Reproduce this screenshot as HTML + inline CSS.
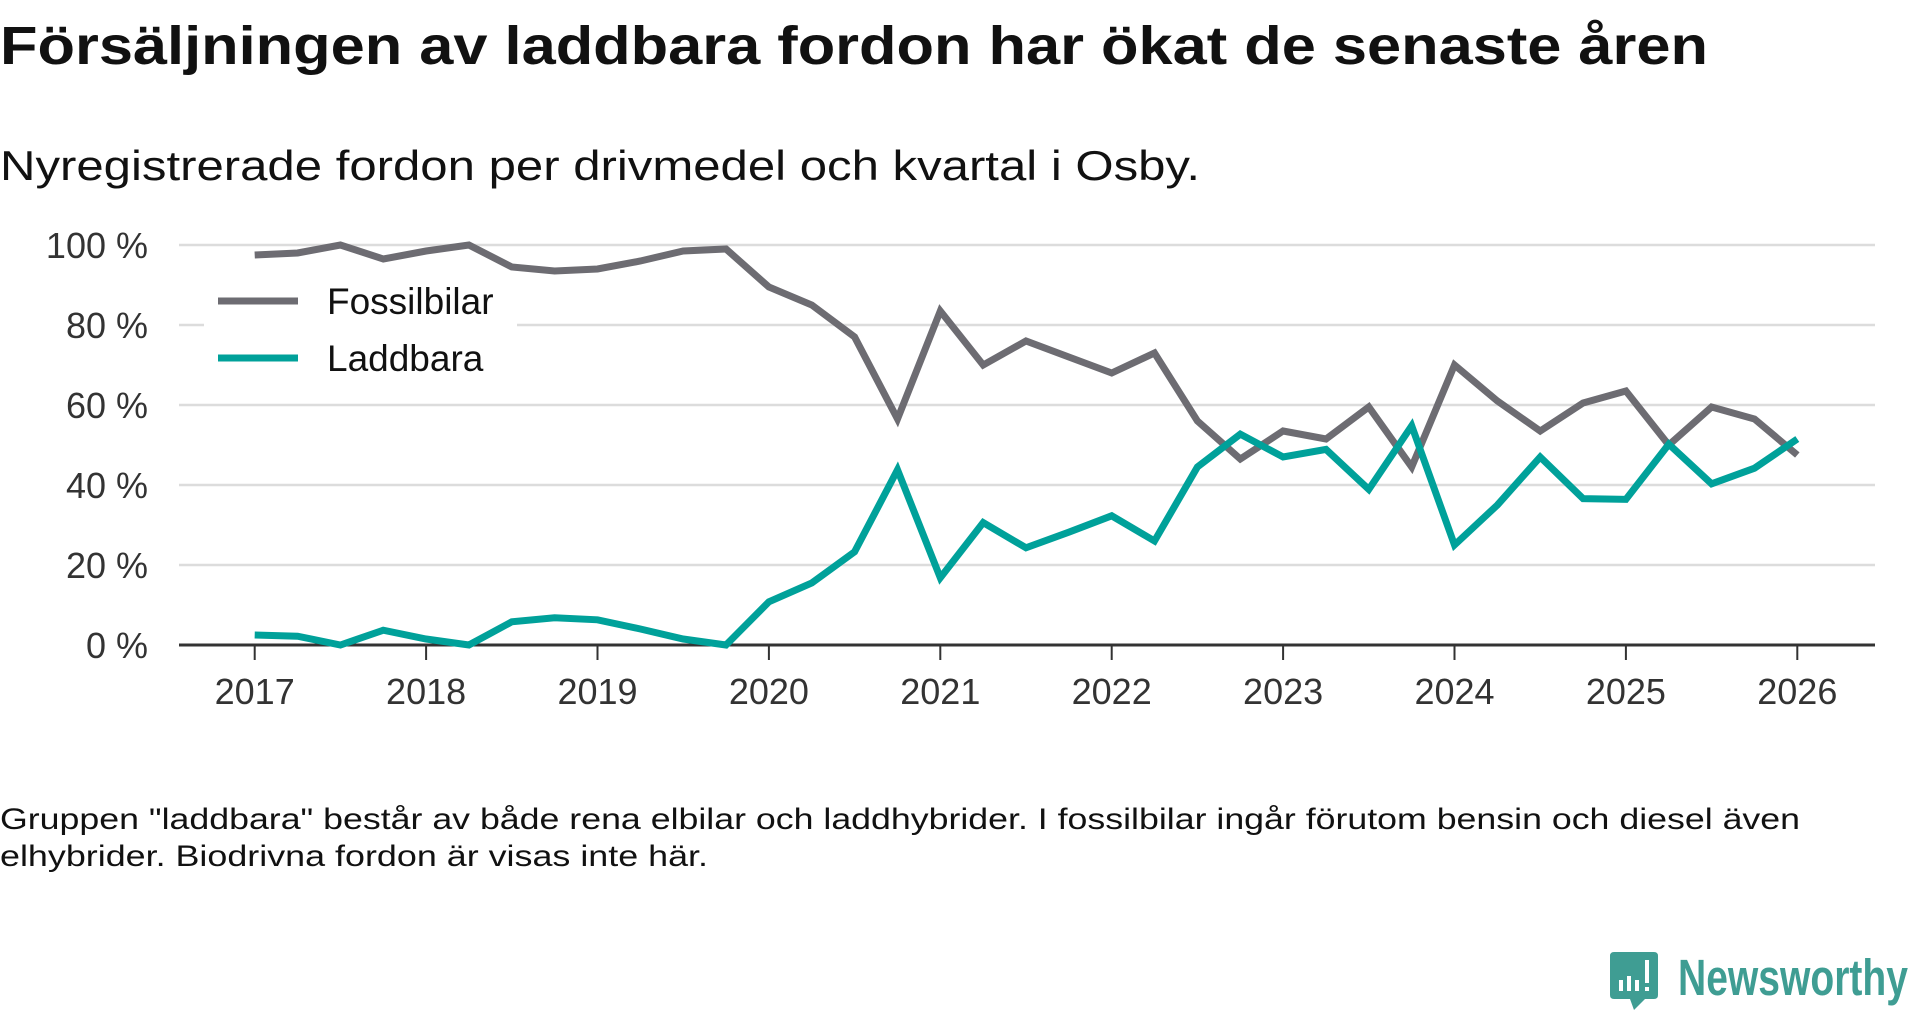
<!DOCTYPE html>
<html><head><meta charset="utf-8"><style>
html,body{margin:0;padding:0;background:#fff;}
svg{display:block;font-family:"Liberation Sans",sans-serif;}
</style></head><body>
<svg id="chart" width="1920" height="1010" viewBox="0 0 1920 1010">
<text x="0" y="64" font-size="54" font-weight="bold" fill="#111" textLength="1708" lengthAdjust="spacingAndGlyphs">Försäljningen av laddbara fordon har ökat de senaste åren</text>
<text x="0" y="180" font-size="42" fill="#111" textLength="1200" lengthAdjust="spacingAndGlyphs">Nyregistrerade fordon per drivmedel och kvartal i Osby.</text>
<g id="grid"></g>
<g id="yticks"></g>
<g id="xticks"></g>
<g id="legend">
<rect x="204" y="272" width="313" height="110" fill="#fff"/>
<line x1="218" y1="301" x2="298" y2="301" stroke="#6d6c72" stroke-width="7"/>
<text x="327" y="314" font-size="37" fill="#111">Fossilbilar</text>
<line x1="218" y1="358" x2="298" y2="358" stroke="#00a19a" stroke-width="7"/>
<text x="327" y="371" font-size="37" fill="#111">Laddbara</text>
</g>
<g id="series"></g>
<text x="0" y="829" font-size="30" fill="#111" textLength="1800" lengthAdjust="spacingAndGlyphs">Gruppen "laddbara" består av både rena elbilar och laddhybrider. I fossilbilar ingår förutom bensin och diesel även</text>
<text x="0" y="866" font-size="30" fill="#111" textLength="708" lengthAdjust="spacingAndGlyphs">elhybrider. Biodrivna fordon är visas inte här.</text>
<g>
<path d="M1614 952 H1654 Q1658 952 1658 956 V995 Q1658 999 1654 999 H1645 L1634 1010 L1630 999 H1614 Q1610 999 1610 995 V956 Q1610 952 1614 952 Z" fill="#3f9d93"/>
<rect x="1619" y="980" width="4" height="11" fill="#fff"/><rect x="1627" y="976" width="4" height="15" fill="#fff"/><rect x="1635" y="980" width="4" height="11" fill="#fff"/><rect x="1645" y="960" width="4" height="23" fill="#fff"/><rect x="1645" y="987" width="4" height="4" fill="#fff"/>
<text x="1678" y="995" font-size="51" font-weight="bold" fill="#3f9d93" textLength="230" lengthAdjust="spacingAndGlyphs">Newsworthy</text>
</g>
</svg>
<script>
const yTickValues = [0, 20, 40, 60, 80, 100];
const yTickLabels = ["0 %", "20 %", "40 %", "60 %", "80 %", "100 %"];
const xTickYears = [2017, 2018, 2019, 2020, 2021, 2022, 2023, 2024, 2025, 2026];
const fossil = [97.5,98,100,96.5,98.5,100,94.5,93.5,94,96,98.5,99,89.5,85,77,56.5,83.5,70,76,72,68,73,56,46.5,53.5,51.5,59.5,44.5,70,61,53.5,60.5,63.5,50,59.5,56.5,47.5];
const laddbara = [2.5,2.2,0,3.7,1.5,0,5.8,6.8,6.3,4,1.5,0,10.8,15.5,23.3,43.8,16.8,30.6,24.3,28.2,32.3,26,44.5,52.7,47,48.9,38.9,54.8,25,35,47,36.6,36.4,50.2,40.3,44.2,51.5];
const startYear = 2017;

const NS = "http://www.w3.org/2000/svg";
const plotL = 179, plotR = 1875;
const yScale = v => 645 - v * 4.0;
const xScale = t => 254.7 + (t - 2017) * 171.4;
function mk(tag, attrs, parent) {
  const e = document.createElementNS(NS, tag);
  for (const k in attrs) e.setAttribute(k, attrs[k]);
  parent.appendChild(e);
  return e;
}
const grid = document.getElementById('grid');
const yt = document.getElementById('yticks');
yTickValues.forEach((v, i) => {
  if (v > 0) {
    const l = mk('line', {x1: plotL, x2: plotR, y1: yScale(v), y2: yScale(v), stroke: '#dcdcdc', 'stroke-width': 2.5}, grid);
    
    
  }
  const t = mk('text', {x: 148, y: yScale(v) + 13, 'text-anchor': 'end', 'font-size': 36, fill: '#333'}, yt);
  t.textContent = yTickLabels[i];
  
  
});
const xt = document.getElementById('xticks');
xTickYears.forEach(y => {
  const x = xScale(y);
  const tk = mk('line', {x1: x, x2: x, y1: 645, y2: 660, stroke: '#333', 'stroke-width': 2}, xt);
  
  
  const t = mk('text', {x: x, y: 704, 'text-anchor': 'middle', 'font-size': 36, fill: '#333'}, xt);
  t.textContent = y;
  
  
});
const base = mk('line', {x1: plotL, x2: plotR, y1: 645, y2: 645, stroke: '#333', 'stroke-width': 3}, xt);



const ser = document.getElementById('series');
function drawLine(vals, color, name) {
  const pts = vals.map((v, i) => xScale(startYear + i / 4).toFixed(1) + ',' + yScale(v).toFixed(1)).join(' ');
  const p = mk('polyline', {points: pts, fill: 'none', stroke: color, 'stroke-width': 7, 'stroke-linejoin': 'miter'}, ser);
  
  
}
drawLine(fossil, '#6d6c72', 'line-fossilbilar');
drawLine(laddbara, '#00a19a', 'line-laddbara');
</script>
</body></html>
